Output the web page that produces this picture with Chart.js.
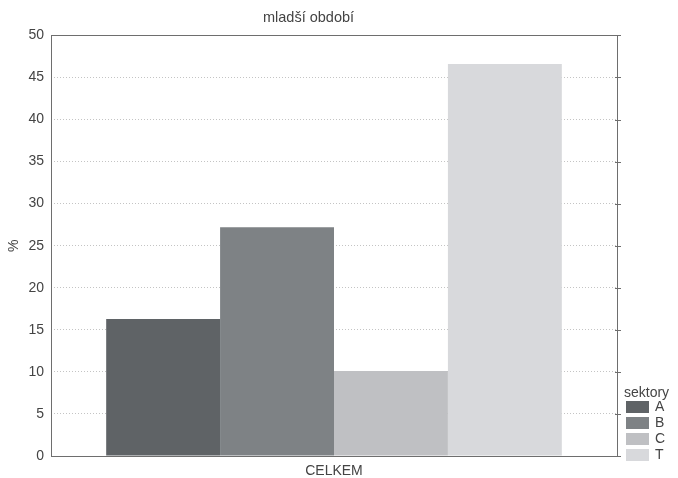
<!DOCTYPE html>
<html>
<head>
<meta charset="utf-8">
<script src="https://cdn.jsdelivr.net/npm/chart.js@4/dist/chart.umd.min.js"></script>
<style>
  html, body { margin: 0; padding: 0; background: #fff; }
  #wrap { width: 678px; height: 478px; }
</style>
</head>
<body>
<div id="wrap"><canvas id="chart" width="678" height="478"></canvas></div>
<script>
const categories = ['CELKEM'];
const sectors = ['A', 'B', 'C', 'T'];
const values = [16.3, 27.2, 10.1, 46.6];
const colors = ['#5f6366', '#7e8285', '#bfc0c3', '#d8d9dc'];
const yTicks = [0, 5, 10, 15, 20, 25, 30, 35, 40, 45, 50];

const FONT = 'Liberation Sans, Arial, sans-serif';

// frame around the plot area + small tick stubs on the right edge
const framePlugin = {
  id: 'frame',
  afterDatasetsDraw(chart) {
    const {ctx, chartArea: a, scales} = chart;
    ctx.save();
    ctx.strokeStyle = '#6e6e6e';
    ctx.lineWidth = 1;
    ctx.strokeRect(Math.round(a.left) + 0.5, Math.round(a.top) + 0.5,
      Math.round(a.right - a.left), Math.round(a.bottom - a.top));
    ctx.beginPath();
    yTicks.forEach(v => {
      const y = Math.round(scales.y.getPixelForValue(v)) + 0.5;
      ctx.moveTo(Math.round(a.right) - 2, y);
      ctx.lineTo(Math.round(a.right) + 4, y);
    });
    ctx.stroke();
    ctx.restore();
  }
};

// legend in the bottom right corner, like the original
const legendPlugin = {
  id: 'sideLegend',
  afterDraw(chart) {
    const {ctx, chartArea: a} = chart;
    const x = Math.round(a.right) + 9;
    ctx.save();
    ctx.fillStyle = '#444';
    ctx.font = '14px ' + FONT;
    ctx.textBaseline = 'middle';
    ctx.textAlign = 'left';
    ctx.fillText('sektory', x - 2, 393);
    chart.data.datasets.forEach((ds, i) => {
      const yy = 401 + i * 16;
      ctx.fillStyle = ds.backgroundColor;
      ctx.fillRect(x, yy, 23, 12);
      ctx.fillStyle = '#444';
      ctx.fillText(ds.label, x + 29, yy + 6.5);
    });
    ctx.restore();
  }
};

new Chart(document.getElementById('chart'), {
  type: 'bar',
  data: {
    labels: categories,
    datasets: sectors.map((s, i) => ({
      label: s,
      data: [values[i]],
      backgroundColor: colors[i],
      borderWidth: 0
    }))
  },
  options: {
    responsive: false,
    animation: false,
    layout: { padding: { left: 0, right: 61, top: 0, bottom: 0 } },
    datasets: { bar: { categoryPercentage: 0.805, barPercentage: 1 } },
    plugins: {
      legend: { display: false },
      tooltip: { enabled: false },
      title: {
        display: true,
        text: 'mladší období',
        color: '#444',
        font: { family: FONT, size: 14.5, weight: 'normal' },
        padding: { top: 9, bottom: 9 }
      }
    },
    scales: {
      x: {
        grid: { display: false, drawTicks: false },
        border: { display: false },
        ticks: { color: '#444', padding: 7, font: { family: FONT, size: 14 } },
        afterFit(axis) { axis.height = 22; }
      },
      y: {
        min: 0,
        max: 50,
        afterBuildTicks(axis) { axis.ticks = yTicks.map(v => ({ value: v })); },
        grid: { color: '#c4c4c4', drawTicks: false },
        border: { display: false, dash: [1, 2] },
        ticks: { color: '#444', padding: 7, font: { family: FONT, size: 14 } },
        title: {
          display: true,
          text: '%',
          color: '#444',
          font: { family: FONT, size: 14 },
          padding: { top: 6, bottom: 2 }
        },
        afterFit(axis) { axis.width = 51; }
      }
    }
  },
  plugins: [framePlugin, legendPlugin]
});
</script>
</body>
</html>
